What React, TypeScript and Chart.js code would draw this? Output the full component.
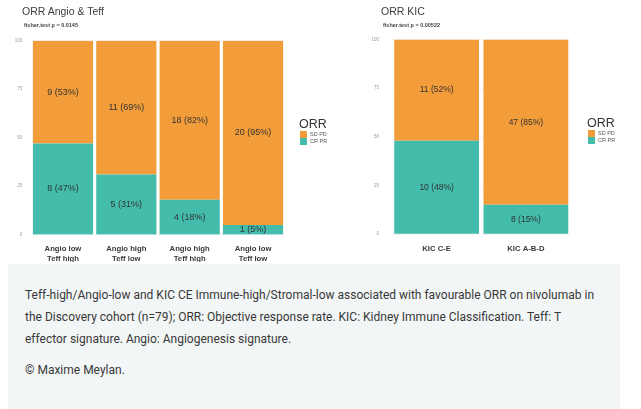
import React, { useEffect, useRef } from "react";
import { Chart, registerables } from "chart.js";

Chart.register(...registerables);

// ---------- data ----------
const leftCategories = [
  ["Angio low", "Teff high"],
  ["Angio high", "Teff low"],
  ["Angio high", "Teff high"],
  ["Angio low", "Teff low"],
];
const leftSdPdCounts = [9, 11, 18, 20];
const leftSdPdPct = [53, 69, 82, 95];
const leftCrPrCounts = [8, 5, 4, 1];
const leftCrPrPct = [47, 31, 18, 5];

const rightCategories = ["KIC C-E", "KIC A-B-D"];
const rightSdPdCounts = [11, 47];
const rightSdPdPct = [52, 85];
const rightCrPrCounts = [10, 8];
const rightCrPrPct = [48, 15];

const yTickValues = [0, 25, 50, 75, 100];
const seriesNames = ["SD PD", "CR PR"];

const ORANGE = "#F39D3A";
const TEAL = "#43BCAC";
const FONT = "'Liberation Sans', Arial, sans-serif";

type ChartProps = {
  categories: (string | string[])[];
  sdCounts: number[];
  sdPct: number[];
  crCounts: number[];
  crPct: number[];
  width: number;
  height: number;
  pad: { top: number; right: number; bottom: number; left: number };
  yAxisWidth: number;
  yTickPad: number;
  xAxisHeight: number;
  xTickPad: number;
  labelSize: number;
};

function StackedChart(p: ChartProps) {
  const ref = useRef<HTMLCanvasElement | null>(null);
  useEffect(() => {
    if (!ref.current) return;
    const counts = [p.crCounts, p.sdCounts];
    const labelPlugin = {
      id: "barLabels",
      afterDatasetsDraw(chart: any) {
        const ctx = chart.ctx;
        ctx.save();
        ctx.font = `${p.labelSize}px ${FONT}`;
        ctx.fillStyle = "#333333";
        ctx.textAlign = "center";
        ctx.textBaseline = "middle";
        chart.data.datasets.forEach((ds: any, di: number) => {
          const meta = chart.getDatasetMeta(di);
          meta.data.forEach((el: any, i: number) => {
            const { x, y, base } = el.getProps(["x", "y", "base"], true);
            ctx.fillText(`${counts[di][i]} (${ds.data[i]}%)`, x, (y + base) / 2);
          });
        });
        ctx.restore();
      },
    };
    const chart = new Chart(ref.current, {
      type: "bar",
      data: {
        labels: p.categories,
        datasets: [
          {
            label: seriesNames[1],
            data: p.crPct,
            backgroundColor: TEAL,
            barPercentage: 0.95,
            categoryPercentage: 1,
          },
          {
            label: seriesNames[0],
            data: p.sdPct,
            backgroundColor: ORANGE,
            barPercentage: 0.95,
            categoryPercentage: 1,
          },
        ],
      },
      options: {
        animation: false,
        responsive: false,
        devicePixelRatio: 1,
        layout: { padding: p.pad },
        plugins: {
          legend: { display: false },
          tooltip: { enabled: false },
          title: { display: false },
        },
        scales: {
          x: {
            stacked: true,
            grid: { display: false, drawTicks: false },
            border: { display: false },
            ticks: {
              padding: p.xTickPad,
              color: "#3a3a3a",
              font: { family: FONT, size: 7.7, weight: "bold", lineHeight: 1.3 },
              maxRotation: 0,
              autoSkip: false,
            },
            afterFit(scale: any) {
              scale.height = p.xAxisHeight;
            },
          },
          y: {
            stacked: true,
            min: 0,
            max: 100,
            grid: { color: "#eeeeee", lineWidth: 0.6, drawTicks: false },
            border: { display: false },
            ticks: {
              padding: p.yTickPad,
              color: "#9a9a9a",
              font: { family: FONT, size: 4.5 },
            },
            afterBuildTicks(scale: any) {
              scale.ticks = yTickValues.map((v) => ({ value: v }));
            },
            afterFit(scale: any) {
              scale.width = p.yAxisWidth;
            },
          },
        },
      } as any,
      plugins: [labelPlugin],
    });
    return () => chart.destroy();
  }, []);
  return (
    <canvas
      ref={ref}
      width={p.width}
      height={p.height}
      style={{ width: p.width, height: p.height, display: "block" }}
    />
  );
}

function Legend({ left, top }: { left: number; top: number }) {
  return (
    <div style={{ position: "absolute", left, top, fontFamily: FONT }}>
      <div style={{ fontSize: 12.5, lineHeight: "14px", color: "#333", marginLeft: -1 }}>ORR</div>
      {[ORANGE, TEAL].map((c, i) => (
        <div key={i} style={{ display: "flex", alignItems: "center", height: 7 }}>
          <div style={{ width: 7, height: 7, background: c }} />
          <div style={{ fontSize: 5.5, color: "#555", marginLeft: 3, lineHeight: "7px" }}>
            {seriesNames[i]}
          </div>
        </div>
      ))}
    </div>
  );
}

function Titles({ left, title, sub }: { left: number; title: string; sub: string }) {
  return (
    <>
      <div
        style={{
          position: "absolute",
          left,
          top: 5,
          fontFamily: FONT,
          fontSize: 10.5,
          lineHeight: "12px",
          color: "#3d3d3d",
          whiteSpace: "nowrap",
        }}
      >
        {title}
      </div>
      <div
        style={{
          position: "absolute",
          left: left + 2,
          top: 22,
          fontFamily: FONT,
          fontSize: 5.5,
          fontWeight: "bold",
          lineHeight: "6px",
          color: "#444",
          whiteSpace: "nowrap",
        }}
      >
        {sub}
      </div>
    </>
  );
}

export default function App() {
  return (
    <div
      style={{
        position: "absolute",
        left: 0,
        top: 0,
        width: 641,
        height: 409,
        background: "#fff",
        overflow: "hidden",
      }}
    >
      <div style={{ position: "absolute", left: 0, top: 0 }}>
        <StackedChart
          categories={leftCategories}
          sdCounts={leftSdPdCounts}
          sdPct={leftSdPdPct}
          crCounts={leftCrPrCounts}
          crPct={leftCrPrPct}
          width={340}
          height={262}
          pad={{ top: 40.7, right: 55.3, bottom: 0, left: 0 }}
          yAxisWidth={31.3}
          yTickPad={9}
          xAxisHeight={27.3}
          xTickPad={9.5}
          labelSize={9}
        />
      </div>
      <div style={{ position: "absolute", left: 340, top: 0 }}>
        <StackedChart
          categories={rightCategories}
          sdCounts={rightSdPdCounts}
          sdPct={rightSdPdPct}
          crCounts={rightCrPrCounts}
          crPct={rightCrPrPct}
          width={301}
          height={262}
          pad={{ top: 39.5, right: 70.5, bottom: 0, left: 0 }}
          yAxisWidth={52}
          yTickPad={13}
          xAxisHeight={28}
          xTickPad={9.5}
          labelSize={8.5}
        />
      </div>
      <Titles left={22} title="ORR Angio & Teff" sub="fisher.test  p =  0.0145" />
      <Titles left={381} title="ORR KIC" sub="fisher.test  p =  0.00522" />
      <Legend left={300} top={117} />
      <Legend left={588} top={116} />
      <div
        style={{
          position: "absolute",
          left: 8,
          top: 264,
          width: 612,
          height: 145,
          background: "#F3F6F6",
          boxSizing: "border-box",
          padding: "20px 0 0 17px",
          fontFamily: "Roboto, sans-serif",
          fontSize: 12,
          color: "#383838",
          whiteSpace: "nowrap",
        }}
      >
        <div style={{ lineHeight: "22px" }}>
          Teff-high/Angio-low and KIC CE Immune-high/Stromal-low associated with favourable ORR on nivolumab in
          <br />
          the Discovery cohort (n=79); ORR: Objective response rate. KIC: Kidney Immune Classification. Teff: T
          <br />
          effector signature. Angio: Angiogenesis signature.
        </div>
        <div style={{ lineHeight: "22px", marginTop: 9 }}>© Maxime Meylan.</div>
      </div>
    </div>
  );
}
